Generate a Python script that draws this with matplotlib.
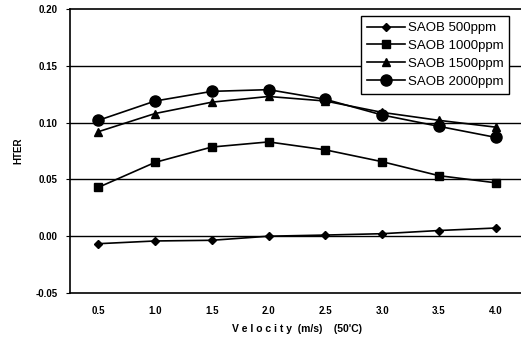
import numpy as np
import matplotlib.pyplot as plt

plt.rcParams['font.family'] = ['Liberation Sans', 'DejaVu Sans']

# velocity (m/s) at 50'C
velocity = [0.5, 1.0, 1.5, 2.0, 2.5, 3.0, 3.5, 4.0]
saob_500 = [-0.0066, -0.0042, -0.0036, 0.0000, 0.0010, 0.0022, 0.0050, 0.0072]
saob_1000 = [0.043, 0.065, 0.0785, 0.083, 0.076, 0.0656, 0.0533, 0.047]
saob_1500 = [0.092, 0.108, 0.118, 0.123, 0.119, 0.109, 0.102, 0.096]
saob_2000 = [0.102, 0.119, 0.1275, 0.129, 0.1205, 0.1067, 0.0967, 0.087]
yticks = [-0.05, 0.00, 0.05, 0.10, 0.15, 0.20]

fig = plt.figure(figsize=(5.21, 3.41), dpi=100)
ax = fig.add_axes([70/521, 48/341, 454/521, 284/341])

for y in [0.00, 0.05, 0.10, 0.15]:
    ax.axhline(y, color='black', linewidth=1.0, zorder=1)

ax.plot(velocity, saob_500, 'k-', marker='D', markersize=4, linewidth=1.2, label='SAOB 500ppm', zorder=3)
ax.plot(velocity, saob_1000, 'k-', marker='s', markersize=5.5, linewidth=1.2, label='SAOB 1000ppm', zorder=3)
ax.plot(velocity, saob_1500, 'k-', marker='^', markersize=5.5, linewidth=1.2, label='SAOB 1500ppm', zorder=3)
ax.plot(velocity, saob_2000, 'k-', marker='o', markersize=8, linewidth=1.2, label='SAOB 2000ppm', zorder=3)

ax.set_xlim(0.25, 4.25)
ax.set_ylim(-0.05, 0.20)
ax.set_xticks(velocity)
ax.set_xticklabels(['%.1f' % v for v in velocity], fontsize=7, fontweight='bold')
ax.set_yticks(yticks)
ax.set_yticklabels(['%.2f' % v for v in yticks], fontsize=7, fontweight='bold')
ax.tick_params(axis='x', length=0, pad=9)
ax.tick_params(axis='y', length=3, direction='out', pad=6)
for s in ax.spines.values():
    s.set_linewidth(1.2)

ax.set_ylabel('HTER', fontsize=7, fontweight='bold', labelpad=9)
ax.set_xlabel('V e l o c i t y  (m/s)    (50\'C)', fontsize=7.5, fontweight='bold', labelpad=6)

leg = ax.legend(loc='upper right', bbox_to_anchor=(0.968, 0.975), fontsize=9.5,
                frameon=True, fancybox=False, handlelength=2.9, handletextpad=0.2,
                labelspacing=0.42, borderpad=0.45, borderaxespad=0)
leg.get_frame().set_edgecolor('black')
leg.get_frame().set_linewidth(1.0)
leg.get_frame().set_alpha(1)

fig.savefig('out.png', dpi=100)
